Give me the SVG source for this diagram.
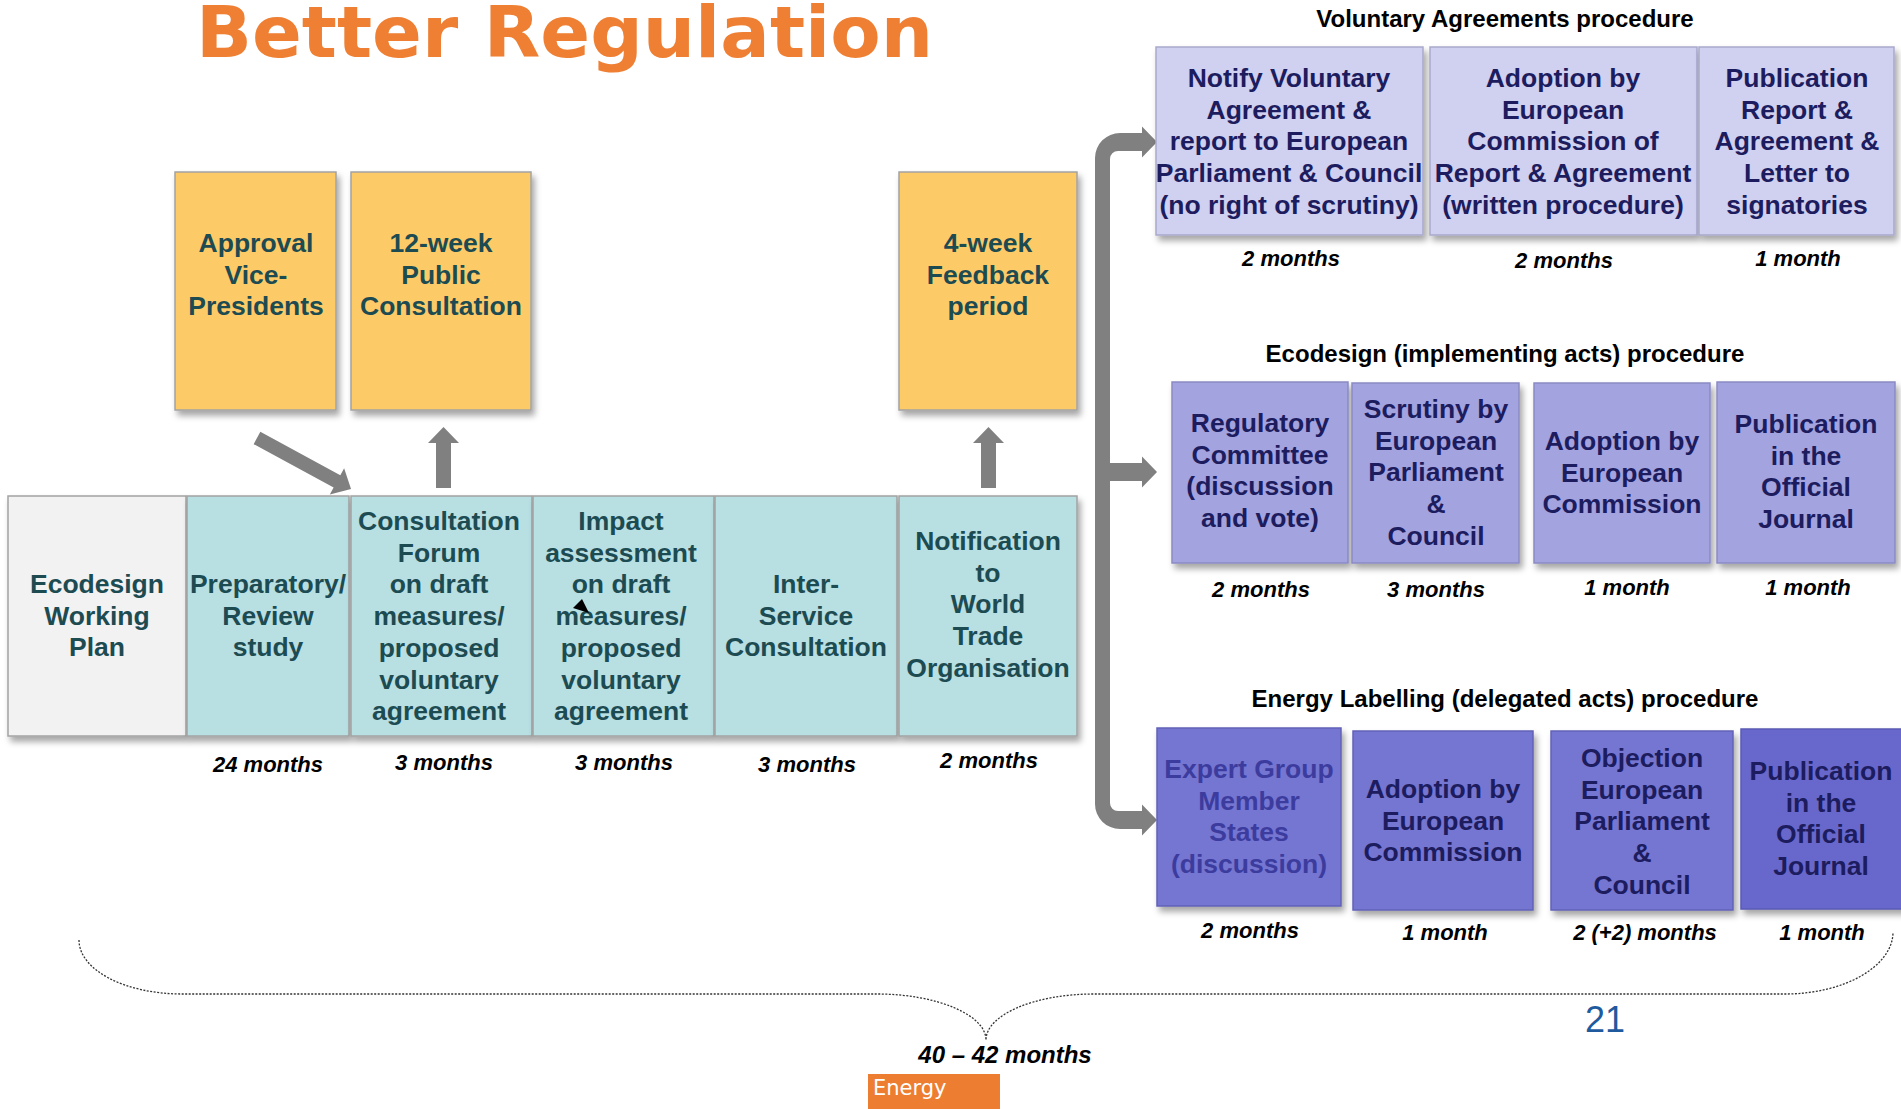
<svg xmlns="http://www.w3.org/2000/svg" width="1901" height="1109" viewBox="0 0 1901 1109">
<defs>
<filter id="sh" x="-10%" y="-10%" width="130%" height="130%"><feDropShadow dx="3" dy="5" stdDeviation="3" flood-color="#000" flood-opacity="0.35"/></filter>
</defs>
<style>
.bx{filter:url(#sh);stroke:#a3a3a3;stroke-width:1.5}
.grey{fill:#f2f2f2}
.teal{fill:#b8dfe2}
.yel{fill:#fdca68}
.va{fill:#d0d0f0;stroke:#a9a9cc}
.eco{fill:#a3a3e0;stroke:#8a8ac4}
.el{fill:#7575d2;stroke:#6262b8}
.el4{fill:#6868cc;stroke:#5a5ab5}
.t{font-family:"Liberation Sans",Arial,sans-serif;font-weight:bold;font-size:26.5px;text-anchor:middle}
.tl{fill:#1d4b52}
.nv{fill:#1c1c5e}
.nv2{fill:#3c3c9e}
.d{font-family:"Liberation Sans",Arial,sans-serif;font-weight:bold;font-style:italic;font-size:22px;text-anchor:middle;fill:#000}
.h{font-family:"Liberation Sans",Arial,sans-serif;font-weight:bold;font-size:24px;text-anchor:middle;fill:#000}
.arr{fill:#808080}
</style>
<rect width="1901" height="1109" fill="#fff"/>
<text x="196" y="57" font-family="'DejaVu Sans',Verdana,sans-serif" font-weight="bold" font-size="72" fill="#ee7f33" textLength="737" lengthAdjust="spacingAndGlyphs">Better Regulation</text>

<!-- connectors -->
<g id="connectors">
<polygon class="arr" transform="translate(257,438) rotate(28.5)" points="0,-7 91,-7 91,-15 107,0 91,15 91,7 0,7"/>
<polygon class="arr" points="436,488 436,443 428,443 443.5,427 459,443 451,443 451,488"/>
<polygon class="arr" points="981,488 981,443 973,443 988.5,427 1004,443 996,443 996,488"/>
<path class="arr" d="M1157 142 L1142 126.5 L1142 133 L1120 133 A25 25 0 0 0 1095 158 L1095 804 A25 25 0 0 0 1120 829 L1142 829 L1142 835.5 L1157 820 L1142 804.5 L1142 811 L1118 811 A8 8 0 0 1 1110 803 L1110 481 L1142 481 L1142 487.5 L1157 472 L1142 456.5 L1142 463 L1110 463 L1110 159 A8 8 0 0 1 1118 151 L1142 151 L1142 157.5 Z"/>
</g>

<!-- top yellow boxes -->
<g id="n-approval"><rect class="bx yel" x="175" y="172" width="161" height="238"/>
<text class="t tl"><tspan x="256" y="252">Approval</tspan><tspan x="256" dy="31.7">Vice-</tspan><tspan x="256" dy="31.7">Presidents</tspan></text></g>
<g id="n-12week"><rect class="bx yel" x="351" y="172" width="180" height="238"/>
<text class="t tl"><tspan x="441" y="252">12-week</tspan><tspan x="441" dy="31.7">Public</tspan><tspan x="441" dy="31.7">Consultation</tspan></text></g>
<g id="n-4week"><rect class="bx yel" x="899" y="172" width="178" height="238"/>
<text class="t tl"><tspan x="988" y="252">4-week</tspan><tspan x="988" dy="31.7">Feedback</tspan><tspan x="988" dy="31.7">period</tspan></text></g>

<!-- main row -->
<g id="n-plan"><rect class="bx grey" x="8" y="496" width="178" height="240"/>
<text class="t tl"><tspan x="97" y="593">Ecodesign</tspan><tspan x="97" dy="31.7">Working</tspan><tspan x="97" dy="31.7">Plan</tspan></text></g>
<g id="n-prep"><rect class="bx teal" x="187" y="496" width="162" height="240"/>
<text class="t tl"><tspan x="268" y="593">Preparatory/</tspan><tspan x="268" dy="31.7">Review</tspan><tspan x="268" dy="31.7">study</tspan></text>
<text class="d" x="268" y="772">24 months</text></g>
<g id="n-forum"><rect class="bx teal" x="351" y="496" width="181" height="240"/>
<text class="t tl"><tspan x="439" y="530">Consultation</tspan><tspan x="439" dy="31.7">Forum</tspan><tspan x="439" dy="31.7">on draft</tspan><tspan x="439" dy="31.7">measures/</tspan><tspan x="439" dy="31.7">proposed</tspan><tspan x="439" dy="31.7">voluntary</tspan><tspan x="439" dy="31.7">agreement</tspan></text>
<text class="d" x="444" y="770">3 months</text></g>
<g id="n-impact"><rect class="bx teal" x="533" y="496" width="181" height="240"/>
<text class="t tl"><tspan x="621" y="530">Impact</tspan><tspan x="621" dy="31.7">assessment</tspan><tspan x="621" dy="31.7">on draft</tspan><tspan x="621" dy="31.7">measures/</tspan><tspan x="621" dy="31.7">proposed</tspan><tspan x="621" dy="31.7">voluntary</tspan><tspan x="621" dy="31.7">agreement</tspan></text>
<polygon points="582,599 573,608 589,613" fill="#000"/>
<text class="d" x="624" y="770">3 months</text></g>
<g id="n-isc"><rect class="bx teal" x="715" y="496" width="182" height="240"/>
<text class="t tl"><tspan x="806" y="593">Inter-</tspan><tspan x="806" dy="31.7">Service</tspan><tspan x="806" dy="31.7">Consultation</tspan></text>
<text class="d" x="807" y="772">3 months</text></g>
<g id="n-wto"><rect class="bx teal" x="899" y="496" width="178" height="240"/>
<text class="t tl"><tspan x="988" y="550">Notification</tspan><tspan x="988" dy="31.7">to</tspan><tspan x="988" dy="31.7">World</tspan><tspan x="988" dy="31.7">Trade</tspan><tspan x="988" dy="31.7">Organisation</tspan></text>
<text class="d" x="989" y="768">2 months</text></g>

<!-- Voluntary agreements -->
<text class="h" x="1505" y="27">Voluntary Agreements procedure</text>
<g id="n-va1"><rect class="bx va" x="1156" y="47" width="267" height="188"/>
<text class="t nv"><tspan x="1289" y="87">Notify Voluntary</tspan><tspan x="1289" dy="31.7">Agreement &amp;</tspan><tspan x="1289" dy="31.7">report to European</tspan><tspan x="1289" dy="31.7">Parliament &amp; Council</tspan><tspan x="1289" dy="31.7">(no right of scrutiny)</tspan></text>
<text class="d" x="1291" y="266">2 months</text></g>
<g id="n-va2"><rect class="bx va" x="1430" y="47" width="267" height="188"/>
<text class="t nv"><tspan x="1563" y="87">Adoption by</tspan><tspan x="1563" dy="31.7">European</tspan><tspan x="1563" dy="31.7">Commission of</tspan><tspan x="1563" dy="31.7">Report &amp; Agreement</tspan><tspan x="1563" dy="31.7">(written procedure)</tspan></text>
<text class="d" x="1564" y="268">2 months</text></g>
<g id="n-va3"><rect class="bx va" x="1699" y="47" width="195" height="188"/>
<text class="t nv"><tspan x="1797" y="87">Publication</tspan><tspan x="1797" dy="31.7">Report &amp;</tspan><tspan x="1797" dy="31.7">Agreement &amp;</tspan><tspan x="1797" dy="31.7">Letter to</tspan><tspan x="1797" dy="31.7">signatories</tspan></text>
<text class="d" x="1798" y="266">1 month</text></g>

<!-- Ecodesign -->
<text class="h" x="1505" y="362">Ecodesign (implementing acts) procedure</text>
<g id="n-eco1"><rect class="bx eco" x="1172" y="382" width="176" height="181"/>
<text class="t nv"><tspan x="1260" y="432">Regulatory</tspan><tspan x="1260" dy="31.7">Committee</tspan><tspan x="1260" dy="31.7">(discussion</tspan><tspan x="1260" dy="31.7">and vote)</tspan></text>
<text class="d" x="1261" y="597">2 months</text></g>
<g id="n-eco2"><rect class="bx eco" x="1352" y="383" width="167" height="180"/>
<text class="t nv"><tspan x="1436" y="418">Scrutiny by</tspan><tspan x="1436" dy="31.7">European</tspan><tspan x="1436" dy="31.7">Parliament</tspan><tspan x="1436" dy="31.7">&amp;</tspan><tspan x="1436" dy="31.7">Council</tspan></text>
<text class="d" x="1436" y="597">3 months</text></g>
<g id="n-eco3"><rect class="bx eco" x="1534" y="383" width="176" height="180"/>
<text class="t nv"><tspan x="1622" y="450">Adoption by</tspan><tspan x="1622" dy="31.7">European</tspan><tspan x="1622" dy="31.7">Commission</tspan></text>
<text class="d" x="1627" y="595">1 month</text></g>
<g id="n-eco4"><rect class="bx eco" x="1717" y="382" width="178" height="181"/>
<text class="t nv"><tspan x="1806" y="433">Publication</tspan><tspan x="1806" dy="31.7">in the</tspan><tspan x="1806" dy="31.7">Official</tspan><tspan x="1806" dy="31.7">Journal</tspan></text>
<text class="d" x="1808" y="595">1 month</text></g>

<!-- Energy labelling -->
<text class="h" x="1505" y="707">Energy Labelling (delegated acts) procedure</text>
<g id="n-el1"><rect class="bx el" x="1157" y="728" width="184" height="178"/>
<text class="t nv2"><tspan x="1249" y="778">Expert Group</tspan><tspan x="1249" dy="31.7">Member</tspan><tspan x="1249" dy="31.7">States</tspan><tspan x="1249" dy="31.7">(discussion)</tspan></text>
<text class="d" x="1250" y="938">2 months</text></g>
<g id="n-el2"><rect class="bx el" x="1353" y="731" width="180" height="179"/>
<text class="t nv"><tspan x="1443" y="798">Adoption by</tspan><tspan x="1443" dy="31.7">European</tspan><tspan x="1443" dy="31.7">Commission</tspan></text>
<text class="d" x="1445" y="940">1 month</text></g>
<g id="n-el3"><rect class="bx el" x="1551" y="731" width="182" height="179"/>
<text class="t nv"><tspan x="1642" y="767">Objection</tspan><tspan x="1642" dy="31.7">European</tspan><tspan x="1642" dy="31.7">Parliament</tspan><tspan x="1642" dy="31.7">&amp;</tspan><tspan x="1642" dy="31.7">Council</tspan></text>
<text class="d" x="1645" y="940">2 (+2) months</text></g>
<g id="n-el4"><rect class="bx el4" x="1741" y="729" width="170" height="180"/>
<text class="t nv"><tspan x="1821" y="780">Publication</tspan><tspan x="1821" dy="31.7">in the</tspan><tspan x="1821" dy="31.7">Official</tspan><tspan x="1821" dy="31.7">Journal</tspan></text>
<text class="d" x="1822" y="940">1 month</text></g>

<!-- brace -->
<g id="brace">
<path d="M79 940 C79 970 125 994 182 994 L877 994 C937 994 986 1015 986 1040 C986 1015 1034 994 1094 994 L1785 994 C1845 994 1893 966 1893 932" fill="none" stroke="#333" stroke-width="1.3" stroke-dasharray="2 1.5"/>
<text class="d" x="1005" y="1063" style="font-size:24px">40 – 42 months</text>
</g>

<text x="1605" y="1032" font-family="'Liberation Sans',Arial,sans-serif" font-size="36" fill="#1f5a9e" text-anchor="middle">21</text>
<g id="footer">
<rect x="868" y="1074" width="132" height="35" fill="#ed7d31"/>
<text x="873" y="1095" font-family="'DejaVu Sans',Verdana,sans-serif" font-size="21" fill="#fff">Energy</text>
</g>
</svg>
